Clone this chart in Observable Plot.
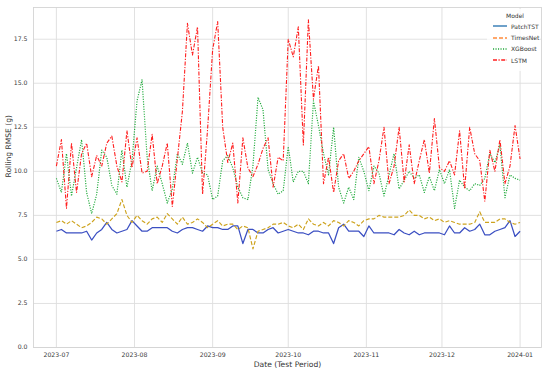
<!DOCTYPE html>
<html><head><meta charset="utf-8">
<script src="https://cdn.jsdelivr.net/npm/d3@7"></script>
<script src="https://cdn.jsdelivr.net/npm/@observablehq/plot@0.6"></script>
<style>
body{margin:0;background:#fff;font-family:"DejaVu Sans",sans-serif;}
#wrap{position:relative;width:550px;height:376px;overflow:hidden;}
#legend{position:absolute;left:487px;top:9px;width:53px;height:62px;background:rgba(255,255,255,0.8);font-size:6px;color:#333;}
#legend .t{text-align:center;margin-top:3px;margin-left:3px;height:8.5px;}
#legend .r{display:flex;align-items:center;height:11.4px;margin-left:6px;}
#legend .r svg{margin-right:4px;}
</style></head><body>
<div id="wrap"><div id="chart"></div><div id="legend"></div></div>
<script>
// 2-day sampling grid from 2023-07-01 to 2024-01-01
const startDate = Date.UTC(2023, 6, 1);
const nPoints = 93;
const dates = d3.range(nPoints).map(i => new Date(startDate + i * 2 * 86400000));

const models = ["PatchTST", "TimesNet", "XGBoost", "LSTM"];

const patchtst = [6.6,6.7,6.5,6.5,6.5,6.5,6.6,6.1,6.5,6.7,
7.1,6.7,6.5,6.6,6.7,7.2,6.9,6.6,6.6,6.8,
6.8,6.8,6.8,6.6,6.5,6.7,6.8,6.8,6.7,6.6,
6.9,6.8,6.8,6.7,6.7,6.9,6.9,5.9,6.7,6.7,
6.5,6.5,6.7,6.8,6.5,6.6,6.7,6.6,6.5,6.5,
6.4,6.6,6.6,6.5,6.5,5.9,6.8,7.0,6.6,6.6,
6.6,6.3,6.9,6.5,6.5,6.5,6.5,6.4,6.7,6.5,
6.4,6.6,6.4,6.5,6.5,6.5,6.5,6.4,6.9,6.5,
6.5,6.8,6.6,6.7,7.0,6.4,6.4,6.6,6.7,6.8,
7.2,6.3,6.6];

const timesnet = [7.1,7.2,7.0,7.2,7.0,6.8,6.9,7.1,7.4,7.3,
7.0,7.3,7.6,8.4,7.5,7.1,7.5,7.2,7.0,7.3,
7.4,7.1,7.6,7.3,7.0,7.4,7.0,7.1,7.3,7.1,
6.8,7.0,7.2,6.9,7.0,7.0,6.7,6.9,6.8,5.6,
6.6,6.7,6.8,7.0,7.0,7.1,6.9,6.8,7.0,6.7,
7.3,7.0,6.9,7.1,6.9,7.2,7.1,6.9,7.2,7.1,
6.9,7.2,7.3,7.3,7.5,7.4,7.4,7.4,7.4,7.5,
7.8,7.5,7.5,7.3,7.4,7.2,7.3,7.1,7.2,7.1,
7.0,7.0,7.0,7.1,7.7,7.1,7.1,7.1,7.3,7.3,
7.1,7.0,7.1];

const xgboost = [9.6,8.8,11.0,8.6,10.2,11.8,8.8,7.6,8.7,11.2,
10.8,9.2,8.7,11.2,9.1,10.6,14.0,15.2,10.8,8.9,
10.3,9.3,8.2,9.0,11.0,10.4,11.6,9.9,10.8,9.9,
9.8,8.4,8.6,10.6,10.9,10.2,9.1,8.5,8.4,10.3,
14.2,13.5,10.1,9.3,8.7,8.9,11.4,9.4,10.0,10.0,
9.3,14.0,12.6,11.0,9.8,12.5,9.1,8.2,9.1,8.4,
10.8,10.0,8.9,10.3,9.9,8.6,9.8,11.0,9.0,9.5,
10.0,9.6,9.8,8.8,9.7,8.9,10.1,9.3,10.1,7.9,
9.5,9.1,8.9,9.3,9.2,9.6,11.0,10.5,11.5,8.5,
9.8,9.6,9.5];

const lstm = [10.3,11.8,7.9,11.6,8.8,11.0,11.6,9.7,10.9,10.3,
11.6,12.0,10.3,9.4,12.3,10.2,11.9,9.9,10.0,12.1,
9.3,10.3,11.6,8.0,10.7,13.4,18.4,16.6,18.2,8.7,
12.4,16.9,18.5,12.5,10.5,11.6,8.2,11.9,10.2,9.7,
10.4,11.3,11.9,9.1,10.8,10.6,17.5,16.5,18.2,11.5,
18.6,14.1,16.0,9.3,10.8,8.8,10.6,11.0,9.6,10.0,
10.6,11.0,11.4,9.3,10.6,12.5,9.3,10.3,12.5,9.4,
11.5,9.3,10.6,11.8,9.9,13.0,10.2,10.0,10.6,9.8,
12.3,9.0,12.5,11.0,10.6,8.3,11.2,10.0,11.8,9.3,
10.3,12.6,10.7];

const seriesValues = [patchtst, timesnet, xgboost, lstm];

const xTickLabels = ["2023-07","2023-08","2023-09","2023-10","2023-11","2023-12","2024-01"];
const yTicks = [0, 2.5, 5, 7.5, 10, 12.5, 15, 17.5];

const lineColors = ["#3b4fc2", "#cda21c", "#1faa3a", "#ff1f1f"];
const legendColors = ["#1f6fae", "#ff8a3a", "#22a83a", "#ff1f1f"];
const dashes = [null, "4,2", "1.1,1.4", "4,1.5,1.2,1.5"];
const widths = [1.25, 1.15, 1.2, 1.1];

const xTicks = xTickLabels.map(s => { const [y, m] = s.split("-").map(Number); return new Date(Date.UTC(y, m - 1, 1)); });

const table = [];
models.forEach((m, k) => seriesValues[k].forEach((v, i) => table.push({model: m, date: dates[i], value: v})));

const lineMarks = models.map((m, k) => Plot.line(table.filter(d => d.model === m), {
  x: "date", y: "value", stroke: lineColors[k], strokeWidth: widths[k],
  strokeDasharray: dashes[k], strokeLinejoin: "round", strokeLinecap: "butt"
}));

const chart = Plot.plot({
  width: 550, height: 376,
  marginLeft: 33, marginRight: 9, marginTop: 7, marginBottom: 29,
  style: {fontFamily: "DejaVu Sans", fontSize: "6.2px", color: "#3a3a3a", background: "#fff", overflow: "visible"},
  x: {type: "utc", domain: [new Date(Date.UTC(2023, 5, 21, 22)), new Date(Date.UTC(2024, 0, 9, 12))]},
  y: {domain: [0, 19.3]},
  marks: [
    Plot.gridX(xTicks, {stroke: "#dedede", strokeOpacity: 1, strokeWidth: 0.9}),
    Plot.gridY(yTicks, {stroke: "#dedede", strokeOpacity: 1, strokeWidth: 0.9}),
    Plot.frame({stroke: "#d4d4d4", strokeWidth: 0.9}),
    Plot.axisX(xTicks, {tickSize: 0, tickPadding: 5, tickFormat: (d, i) => xTickLabels[i], label: null}),
    Plot.axisY(yTicks, {tickSize: 0, tickPadding: 6, tickFormat: d => d.toFixed(1), label: null}),
    Plot.text(["Date (Test Period)"], {frameAnchor: "bottom", dy: 19, fontSize: 7.6, fill: "#333"}),
    Plot.text(["Rolling RMSE (g)"], {frameAnchor: "left", dx: -25, rotate: -90, fontSize: 7.6, fill: "#333"}),
    ...lineMarks
  ]
});
document.getElementById("chart").appendChild(chart);

// legend
const lg = document.getElementById("legend");
let html = '<div class="t">Model</div>';
models.forEach((m, k) => {
  html += '<div class="r"><svg width="14" height="4"><line x1="0" y1="2" x2="14" y2="2" stroke="' + legendColors[k] +
    '" stroke-width="1.3"' + (dashes[k] ? ' stroke-dasharray="' + dashes[k] + '"' : '') + '/></svg><span>' + m + '</span></div>';
});
lg.innerHTML = html;
</script>
</body></html>
